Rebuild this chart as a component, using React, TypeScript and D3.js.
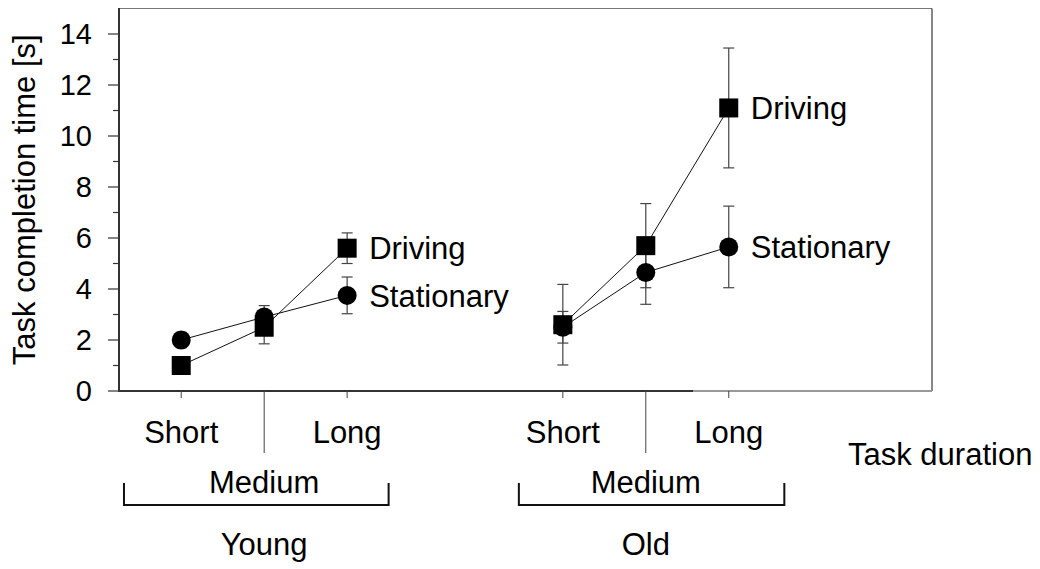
import React from "react";
import * as d3 from "d3";

const groups = ["Young", "Old"];
const durations = ["Short", "Medium", "Long"];
const yTicks = [0, 2, 4, 6, 8, 10, 12, 14];
const yMinorTicks = [1, 3, 5, 7, 9, 11, 13];
const seriesNames = ["Driving", "Stationary"];

const drivingYoung = [1.0, 2.5, 5.6];
const drivingYoungErr = [0.25, 0.65, 0.6];
const drivingOld = [2.6, 5.7, 11.1];
const drivingOldErr = [1.58, 1.65, 2.35];

const stationaryYoung = [2.0, 2.9, 3.75];
const stationaryYoungErr = [0.3, 0.45, 0.72];
const stationaryOld = [2.5, 4.65, 5.65];
const stationaryOldErr = [0.62, 1.25, 1.6];

const groupSpacing = 4.6;
const bracketExtents = [
  [-0.69, 2.5],
  [4.07, 7.27],
];

const W = 1040;
const H = 569;
const FONT = "'Liberation Sans', Arial, Helvetica, sans-serif";

export default function App() {
  const left = 119;
  const right = 932;
  const top = 8.5;
  const bottom = 391;
  const x = d3.scaleLinear().domain([-0.75, 9.05]).range([left, right]);
  const y = d3.scaleLinear().domain([0, 15]).range([bottom, top]);
  const pos = (g: number, d: number) => g * groupSpacing + d;

  const series = [
    { name: seriesNames[0], shape: "square", vals: [drivingYoung, drivingOld], errs: [drivingYoungErr, drivingOldErr] },
    { name: seriesNames[1], shape: "circle", vals: [stationaryYoung, stationaryOld], errs: [stationaryYoungErr, stationaryOldErr] },
  ];
  const line = d3
    .line<[number, number]>()
    .x((p) => p[0])
    .y((p) => p[1]);

  const drawOrder = [1, 0]; // circles below squares
  const ms = 19;

  return (
    <svg width={W} height={H} style={{ position: "absolute", left: 0, top: 0, background: "#fff" }} fontFamily={FONT}>
      <rect x={0} y={0} width={W} height={H} fill="#fff" />
      {/* frame */}
      <line x1={left} x2={right} y1={top} y2={top} stroke="#777" strokeWidth={1.2} />
      <line x1={right} x2={right} y1={top} y2={bottom} stroke="#111" strokeWidth={1} />
      <line x1={left} x2={693} y1={bottom} y2={bottom} stroke="#333" strokeWidth={2} />
      <line x1={693} x2={right} y1={bottom} y2={bottom} stroke="#999" strokeWidth={2} />
      <line x1={left} x2={left} y1={top - 0.5} y2={bottom + 1} stroke="#333" strokeWidth={2} />

      {/* y ticks */}
      {yTicks.map((t) => (
        <g key={"t" + t}>
          <line x1={left - 11} x2={left} y1={y(t)} y2={y(t)} stroke="#333" strokeWidth={1.2} />
          <text x={92} y={y(t)} dy="0.36em" textAnchor="end" fontSize={29} fill="#000">
            {t}
          </text>
        </g>
      ))}
      {yMinorTicks.map((t) => (
        <line key={"m" + t} x1={left - 6} x2={left} y1={y(t)} y2={y(t)} stroke="#333" strokeWidth={1.2} />
      ))}
      <text
        transform={`translate(35,${(top + bottom) / 2}) rotate(-90)`}
        textAnchor="middle"
        fontSize={31}
        fill="#000"
      >
        Task completion time [s]
      </text>

      {/* x ticks and labels */}
      {groups.map((g, gi) => (
        <g key={g}>
          {durations.map((d, di) => {
            const px = x(pos(gi, di));
            return (
              <g key={d}>
                <line x1={px} x2={px} y1={bottom} y2={di === 1 ? 453 : 398} stroke="#444" strokeWidth={1} />
                {di !== 1 && (
                  <text x={px} y={443} textAnchor="middle" fontSize={31} fill="#000">
                    {d}
                  </text>
                )}
                {di === 1 && (
                  <text x={px} y={493} textAnchor="middle" fontSize={31} fill="#000">
                    {d}
                  </text>
                )}
              </g>
            );
          })}
          <path
            d={`M${x(bracketExtents[gi][0])},483V505H${x(bracketExtents[gi][1])}V483`}
            fill="none"
            stroke="#111"
            strokeWidth={2}
          />
          <text x={x(pos(gi, 1))} y={555} textAnchor="middle" fontSize={31} fill="#000">
            {g}
          </text>
        </g>
      ))}
      <text x={848} y={465} fontSize={31} fill="#000">
        Task duration
      </text>

      {/* error bars */}
      {series.map((s) =>
        groups.map((g, gi) =>
          durations.map((d, di) => {
            const px = x(pos(gi, di));
            const v = s.vals[gi][di];
            const e = s.errs[gi][di];
            return (
              <g key={s.name + g + d} stroke="#444" strokeWidth={1.2}>
                <line x1={px} x2={px} y1={y(v - e)} y2={y(v + e)} />
                <line x1={px - 5.5} x2={px + 5.5} y1={y(v - e)} y2={y(v - e)} />
                <line x1={px - 5.5} x2={px + 5.5} y1={y(v + e)} y2={y(v + e)} />
              </g>
            );
          })
        )
      )}

      {/* lines */}
      {series.map((s) =>
        groups.map((g, gi) => (
          <path
            key={"l" + s.name + g}
            d={line(durations.map((_, di) => [x(pos(gi, di)), y(s.vals[gi][di])])) || ""}
            fill="none"
            stroke="#111"
            strokeWidth={1}
          />
        ))
      )}

      {/* markers */}
      {drawOrder.map((si) => {
        const s = series[si];
        return groups.map((g, gi) =>
          durations.map((d, di) => {
            const px = x(pos(gi, di));
            const py = y(s.vals[gi][di]);
            return s.shape === "square" ? (
              <rect key={"k" + s.name + g + d} x={px - ms / 2} y={py - ms / 2} width={ms} height={ms} fill="#000" />
            ) : (
              <circle key={"k" + s.name + g + d} cx={px} cy={py} r={ms / 2} fill="#000" />
            );
          })
        );
      })}

      {/* series labels */}
      {series.map((s) =>
        groups.map((g, gi) => (
          <text
            key={"lab" + s.name + g}
            x={x(pos(gi, 2)) + 22}
            y={y(s.vals[gi][2])}
            dy="0.36em"
            fontSize={31}
            fill="#000"
          >
            {s.name}
          </text>
        ))
      )}
    </svg>
  );
}
